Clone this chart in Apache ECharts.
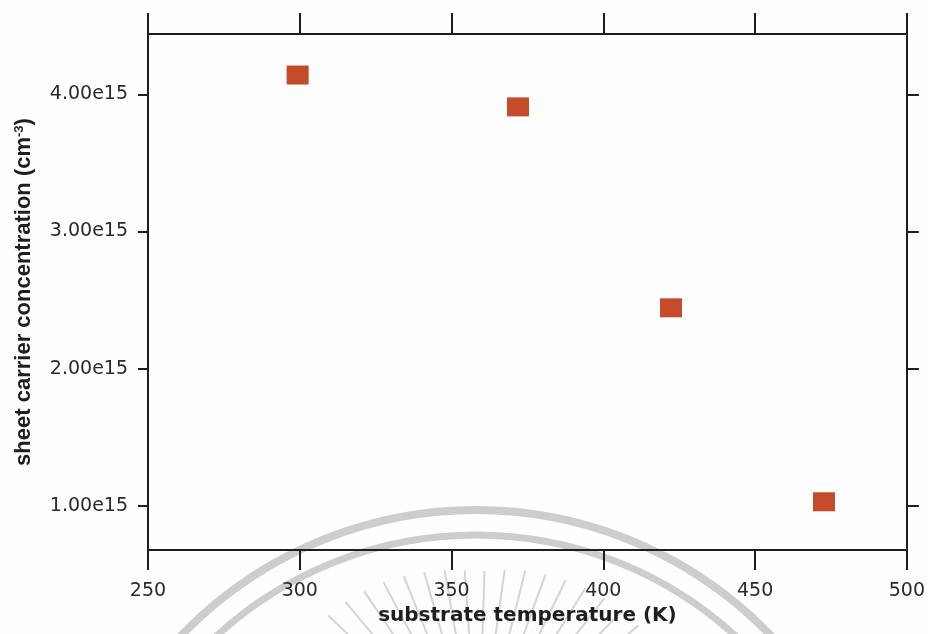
<!DOCTYPE html>
<html>
<head>
<meta charset="utf-8">
<title>Sheet carrier concentration vs substrate temperature</title>
<script src="https://cdn.jsdelivr.net/npm/echarts@6/dist/echarts.min.js"></script>
<style>
  html, body { margin: 0; padding: 0; background: #fefefe; }
  #chart { width: 928px; height: 634px; }
</style>
</head>
<body>
<div id="chart"></div>
<script>
// Measured samples: substrate temperature (K) and sheet carrier concentration (cm^-3)
const temperatures = [299.3, 371.9, 422.3, 472.7];
const concentrations = [4.14e15, 3.908e15, 2.444e15, 1.031e15];

// Axis ticks
const xTicks = [250, 300, 350, 400, 450, 500];
const yTicks = [1.00e15, 2.00e15, 3.00e15, 4.00e15];

const X_MIN = 250, X_MAX = 500, X_STEP = 50;
const Y_MIN = 0.6795e15, Y_MAX = 4.439e15;

const points = temperatures.map((t, i) => [t, concentrations[i]]);

const ink = '#1e1e1e';
const tickFont = 'DejaVu Sans, Verdana, sans-serif';
const titleFont = 'DejaVu Sans, Verdana, sans-serif';
const narrowFont = 'Liberation Sans, Arial, sans-serif';

function sciLabel(v) {
  return (v / 1e15).toFixed(2) + 'e15';
}

// Faint circular emblem printed behind the plot
const emblem = [];
const ec = { x: 476, y: 919 };
emblem.push({
  type: 'circle', silent: true, z: -10,
  shape: { cx: ec.x, cy: ec.y, r: 409 },
  style: { fill: 'none', stroke: '#cdcdcd', lineWidth: 8 }
});
emblem.push({
  type: 'circle', silent: true, z: -10,
  shape: { cx: ec.x, cy: ec.y, r: 384 },
  style: { fill: 'none', stroke: '#cdcdcd', lineWidth: 7 }
});
const rc = { x: 478, y: 760 };
for (let a = 40; a <= 140; a += 6) {
  const r = a * Math.PI / 180;
  const c = Math.cos(r), s = Math.sin(r);
  const tip = 188 + 28 * Math.abs(c);
  emblem.push({
    type: 'line', silent: true, z: -10,
    shape: { x1: rc.x + 110 * c, y1: rc.y - 110 * s, x2: rc.x + tip * c, y2: rc.y - tip * s },
    style: { stroke: '#d4d4d4', lineWidth: 2 }
  });
}

const chart = echarts.init(document.getElementById('chart'), null, { renderer: 'canvas' });

chart.setOption({
  backgroundColor: '#fefefe',
  animation: false,
  graphic: emblem,
  grid: { left: 148, right: 21, top: 34, bottom: 84, containLabel: false },
  xAxis: [
    {
      type: 'value', position: 'bottom',
      min: X_MIN, max: X_MAX, interval: X_STEP,
      name: 'substrate temperature (K)',
      nameLocation: 'middle', nameGap: 56,
      nameTextStyle: { fontFamily: titleFont, fontWeight: 'bold', fontSize: 20, color: '#1e1e1e' },
      axisLine: { show: true, lineStyle: { color: ink, width: 2 } },
      axisTick: { show: true, inside: false, length: 20, lineStyle: { color: ink, width: 2 },
                  customValues: xTicks },
      axisLabel: { show: true, margin: 32, fontFamily: tickFont, fontSize: 19, color: '#2a2a2a',
                   customValues: xTicks },
      splitLine: { show: false }
    },
    {
      type: 'value', position: 'top',
      min: X_MIN, max: X_MAX, interval: X_STEP,
      axisLine: { show: true, lineStyle: { color: ink, width: 2 } },
      axisTick: { show: true, inside: false, length: 21, lineStyle: { color: ink, width: 2 },
                  customValues: xTicks },
      axisLabel: { show: false },
      splitLine: { show: false }
    }
  ],
  yAxis: [
    {
      type: 'value', position: 'left',
      min: Y_MIN, max: Y_MAX,
      name: 'sheet carrier concentration (cm{sup|-3})',
      nameLocation: 'middle', nameGap: 113,
      nameTextStyle: {
        fontFamily: narrowFont, fontWeight: 'bold', fontSize: 22, color: '#1e1e1e',
        rich: {
          sup: { fontFamily: narrowFont, fontWeight: 'bold', fontSize: 13, color: '#1e1e1e',
                 verticalAlign: 'top', padding: [0, 0, 9, 0] }
        }
      },
      axisLine: { show: true, lineStyle: { color: ink, width: 2 } },
      axisTick: { show: true, inside: false, length: 10, lineStyle: { color: ink, width: 2 },
                  customValues: yTicks },
      axisLabel: { show: true, margin: 20, fontFamily: tickFont, fontSize: 19, color: '#2a2a2a',
                   customValues: yTicks, formatter: sciLabel },
      splitLine: { show: false }
    },
    {
      type: 'value', position: 'right',
      min: Y_MIN, max: Y_MAX,
      axisLine: { show: true, lineStyle: { color: ink, width: 2 } },
      axisTick: { show: true, inside: false, length: 12, lineStyle: { color: ink, width: 2 },
                  customValues: yTicks },
      axisLabel: { show: false },
      splitLine: { show: false }
    }
  ],
  series: [
    {
      type: 'scatter',
      xAxisIndex: 0, yAxisIndex: 0,
      data: points,
      symbol: 'rect',
      symbolSize: [22, 19],
      itemStyle: { color: '#c64b29', opacity: 1 },
      z: 5
    }
  ]
});
</script>
</body>
</html>
